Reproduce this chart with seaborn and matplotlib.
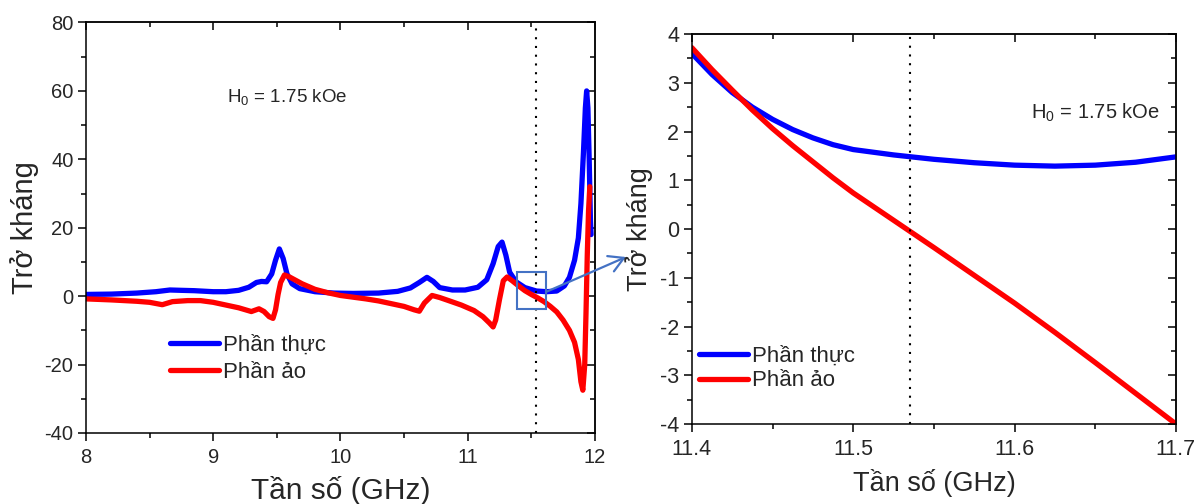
import matplotlib
matplotlib.use('Agg')
import matplotlib.pyplot as plt
from matplotlib.patches import Rectangle
from matplotlib.ticker import MultipleLocator, NullFormatter
import seaborn as sns

# Left panel: full sweep 8-12 GHz
freq_full = [8.0, 8.2, 8.4, 8.55, 8.66, 8.75, 8.85, 9.0, 9.1, 9.2, 9.28, 9.34, 9.38,
             9.42, 9.46, 9.49, 9.52, 9.55, 9.58, 9.62, 9.68, 9.8, 9.95, 10.1, 10.3,
             10.45, 10.55, 10.62, 10.68, 10.73, 10.78, 10.88, 10.98, 11.08, 11.15,
             11.2, 11.24, 11.27, 11.3, 11.33, 11.38, 11.45, 11.54, 11.62, 11.7,
             11.76, 11.8, 11.84, 11.87, 11.89, 11.91, 11.925, 11.935, 11.945,
             11.955, 11.965, 11.97]
real_full = [0.5, 0.6, 0.9, 1.3, 1.8, 1.7, 1.6, 1.3, 1.3, 1.7, 2.6, 4.0, 4.3,
             4.2, 6.5, 10.5, 13.8, 11.0, 6.5, 3.6, 2.2, 1.3, 0.9, 0.8, 0.9,
             1.4, 2.4, 4.0, 5.5, 4.3, 2.5, 1.8, 1.8, 2.6, 4.8,
             9.5, 14.5, 15.8, 12.0, 7.0, 4.2, 2.5, 1.5, 1.3, 1.5,
             3.0, 5.5, 10.5, 17.0, 27.0, 42.0, 55.0, 60.0, 55.0,
             40.0, 22.0, 18.0]

freq_full_im = [8.0, 8.2, 8.4, 8.5, 8.6, 8.68, 8.8, 8.9, 9.0, 9.1, 9.2, 9.3, 9.36,
                9.4, 9.44, 9.47, 9.49, 9.51, 9.53, 9.56, 9.6, 9.7, 9.8, 9.9, 10.0,
                10.1, 10.2, 10.3, 10.4, 10.5, 10.58, 10.62, 10.66, 10.72, 10.78,
                10.85, 10.95, 11.05, 11.12, 11.17, 11.2, 11.22, 11.25, 11.28, 11.31,
                11.35, 11.4, 11.45, 11.5, 11.55, 11.6, 11.65, 11.7, 11.75, 11.8,
                11.84, 11.87, 11.89, 11.905, 11.92, 11.93, 11.94, 11.95, 11.96]
imag_full = [-0.8, -1.1, -1.5, -1.8, -2.5, -1.6, -1.3, -1.3, -1.8, -2.6, -3.4, -4.5, -3.7,
             -4.5, -6.0, -6.5, -4.0, 0.5, 4.0, 6.2, 5.6, 3.6, 2.0, 1.0, 0.2,
             -0.3, -0.8, -1.4, -2.2, -3.0, -4.0, -4.4, -2.0, 0.2, -0.4,
             -1.3, -2.6, -4.2, -6.0, -7.8, -9.0, -7.0, -1.0, 4.5, 5.6,
             4.5, 3.0, 1.6, 0.5, -0.5, -1.6, -3.0, -4.6, -7.0, -10.0,
             -13.5, -18.5, -25.0, -27.5, -20.0, -5.0, 12.0, 25.0, 32.0]

# Right panel: zoom 11.4-11.7 GHz
freq_zoom = [11.4, 11.4125, 11.425, 11.4375, 11.45, 11.4625, 11.475, 11.4875, 11.5,
             11.525, 11.55, 11.575, 11.6, 11.625, 11.65, 11.675, 11.7]
real_zoom = [3.60, 3.17, 2.80, 2.50, 2.25, 2.04, 1.87, 1.73, 1.63,
             1.52, 1.43, 1.36, 1.31, 1.29, 1.31, 1.37, 1.48]
imag_zoom = [3.72, 3.27, 2.85, 2.44, 2.06, 1.71, 1.38, 1.05, 0.74,
             0.18, -0.38, -0.95, -1.52, -2.12, -2.74, -3.37, -4.00]

marker_freq = 11.535
label_real = 'Phần thực'
label_imag = 'Phần ảo'
field_text = r'H$_\mathregular{0}$ = 1.75 kOe'

sns.set_style('ticks')
plt.rcParams['font.family'] = ['Liberation Sans', 'DejaVu Sans']
plt.rcParams['mathtext.fontset'] = 'custom'
plt.rcParams['mathtext.rm'] = 'Liberation Sans'
plt.rcParams['axes.unicode_minus'] = False

fig = plt.figure(figsize=(11.97, 5.04), dpi=100)
ax1 = fig.add_axes([0.0718, 0.1409, 0.4252, 0.8145])
ax2 = fig.add_axes([0.578, 0.1587, 0.4044, 0.7738])

blue = '#0000FF'
red = '#FF0000'
lw = 3.8
frame_blue = '#4472C4'

# ---- left panel ----
sns.lineplot(x=freq_full, y=real_full, ax=ax1, color=blue, linewidth=lw,
             label=label_real, sort=False, estimator=None)
sns.lineplot(x=freq_full_im, y=imag_full, ax=ax1, color=red, linewidth=lw,
             label=label_imag, sort=False, estimator=None)
ax1.axvline(marker_freq, color='black', linestyle=(0, (1, 3.2)), linewidth=1.5)
ax1.set_xlim(8, 12)
ax1.set_ylim(-40, 80)
ax1.set_xlabel('Tần số (GHz)', fontsize=21.5)
ax1.set_ylabel('Trở kháng', fontsize=21)
ax1.text(9.11, 58, field_text, fontsize=13.5, va='center', ha='left')
ax1.add_patch(Rectangle((11.388, -3.9), 0.23, 11.0, fill=False,
                        edgecolor=frame_blue, linewidth=1.5, zorder=5))
ax1.annotate('', xy=(626 / 1197, 1 - 257 / 504), xycoords='figure fraction',
             xytext=(11.62, 1.3), textcoords='data', annotation_clip=False,
             arrowprops=dict(arrowstyle='->,head_length=0.7,head_width=0.4',
                             color=frame_blue, lw=1.6, shrinkA=0, shrinkB=0,
                             mutation_scale=15))
ax1.legend(loc='upper left', bbox_to_anchor=(0.165, 0.24), frameon=False,
           fontsize=16, handlelength=2.2, handletextpad=0.2, labelspacing=0.3,
           borderpad=0, borderaxespad=0)

# ---- right panel ----
sns.lineplot(x=freq_zoom, y=real_zoom, ax=ax2, color=blue, linewidth=lw,
             label=label_real, sort=False, estimator=None)
sns.lineplot(x=freq_zoom, y=imag_zoom, ax=ax2, color=red, linewidth=lw,
             label=label_imag, sort=False, estimator=None)
ax2.axvline(marker_freq, color='black', linestyle=(0, (1, 3.2)), linewidth=1.5)
ax2.set_xlim(11.4, 11.7)
ax2.set_ylim(-4, 4)
ax2.set_xlabel('Tần số (GHz)', fontsize=19.5)
ax2.set_ylabel('Trở kháng', fontsize=19.5)
ax2.text(11.61, 2.39, field_text, fontsize=14.5, va='center', ha='left')
ax2.legend(loc='upper left', bbox_to_anchor=(0.014, 0.2), frameon=False,
           fontsize=16, handlelength=2.2, handletextpad=0.2, labelspacing=0.15,
           borderpad=0, borderaxespad=0)

# ticks: outward on left/bottom, mirrored inward on top/right
locs = {ax1: (1, 0.5, 20, 10, 14.5), ax2: (0.1, 0.05, 1, 0.5, 15.5)}
for ax, (xmaj, xmin, ymaj, ymin, lsize) in locs.items():
    for s in ax.spines.values():
        s.set_visible(True)
        s.set_linewidth(1.1)
        s.set_color('black')
    ax.xaxis.set_major_locator(MultipleLocator(xmaj))
    ax.xaxis.set_minor_locator(MultipleLocator(xmin))
    ax.yaxis.set_major_locator(MultipleLocator(ymaj))
    ax.yaxis.set_minor_locator(MultipleLocator(ymin))
    ax.tick_params(which='both', direction='out', width=1.1, color='black',
                   labelsize=lsize, top=False, right=False)
    ax.tick_params(which='major', length=6)
    ax.tick_params(which='minor', length=3.5)
    ax.tick_params(axis='x', pad=5)
    ax.tick_params(axis='y', pad=3)

    top = ax.secondary_xaxis('top')
    top.xaxis.set_major_locator(MultipleLocator(xmaj))
    top.xaxis.set_minor_locator(MultipleLocator(xmin))
    top.xaxis.set_major_formatter(NullFormatter())
    top.tick_params(which='both', direction='in', width=1.1, color='black')
    top.tick_params(which='major', length=6)
    top.tick_params(which='minor', length=3.5)
    top.spines['top'].set_linewidth(1.1)

    right = ax.secondary_yaxis('right')
    right.yaxis.set_major_locator(MultipleLocator(ymaj))
    right.yaxis.set_minor_locator(MultipleLocator(ymin))
    right.yaxis.set_major_formatter(NullFormatter())
    right.tick_params(which='both', direction='in', width=1.1, color='black')
    right.tick_params(which='major', length=6)
    right.tick_params(which='minor', length=3.5)
    right.spines['right'].set_linewidth(1.1)

ax1.yaxis.set_label_coords(-0.092, 0.5)
ax2.yaxis.set_label_coords(-0.08, 0.5)
ax1.xaxis.set_label_coords(0.5, -0.105)
ax2.xaxis.set_label_coords(0.5, -0.115)

fig.savefig('out.png', dpi=100)
